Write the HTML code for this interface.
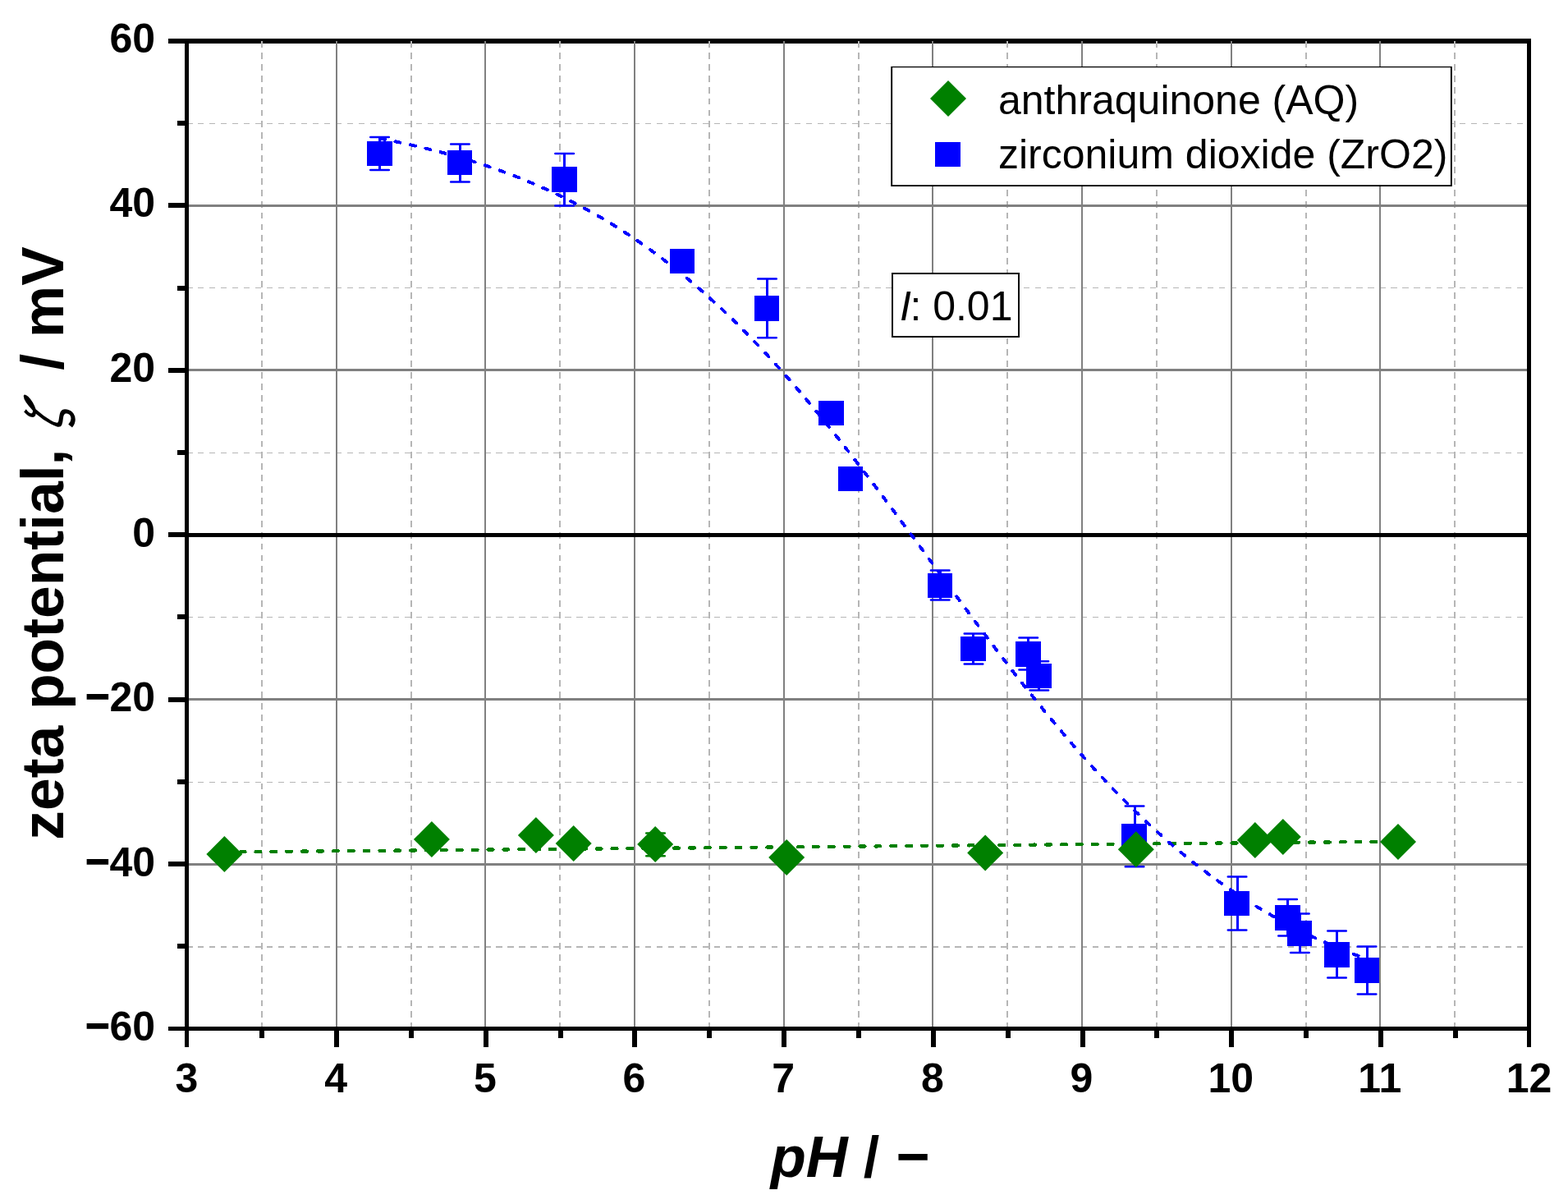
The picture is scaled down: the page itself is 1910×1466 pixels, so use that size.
<!DOCTYPE html>
<html lang="en"><head><meta charset="utf-8"><title>zeta potential vs pH</title>
<style>html,body{margin:0;padding:0;background:#fff;overflow:hidden}svg{display:block}text{font-family:"Liberation Sans","DejaVu Sans",sans-serif;fill:#000}.b{font-weight:bold}.i{font-style:italic}</style></head><body>
<svg width="1910" height="1466" viewBox="0 0 1910 1466" role="img" aria-label="zeta potential versus pH">
<rect width="1910" height="1466" fill="#fff"/>
<rect x="205" y="47" width="1660" height="6" fill="#000" shape-rendering="crispEdges"/>
<g stroke="#b6b6b6" fill="none" shape-rendering="crispEdges">
<line x1="319" y1="50.2" x2="319" y2="1250" stroke-width="2" stroke-dasharray="7.8 6.097"/>
<line x1="501" y1="50.2" x2="501" y2="1250" stroke-width="2" stroke-dasharray="7.8 6.097"/>
<line x1="682" y1="50.2" x2="682" y2="1250" stroke-width="2" stroke-dasharray="7.8 6.097"/>
<line x1="864" y1="50.2" x2="864" y2="1250" stroke-width="2" stroke-dasharray="7.8 6.097"/>
<line x1="1046" y1="50.2" x2="1046" y2="1250" stroke-width="2" stroke-dasharray="7.8 6.097"/>
<line x1="1227" y1="50.2" x2="1227" y2="1250" stroke-width="2" stroke-dasharray="7.8 6.097"/>
<line x1="1409" y1="50.2" x2="1409" y2="1250" stroke-width="2" stroke-dasharray="7.8 6.097"/>
<line x1="1591" y1="50.2" x2="1591" y2="1250" stroke-width="2" stroke-dasharray="7.8 6.097"/>
<line x1="1772" y1="50.2" x2="1772" y2="1250" stroke-width="2" stroke-dasharray="7.8 6.097"/>
<line x1="227.2" y1="150.5" x2="1856" y2="150.5" stroke-width="1" stroke-dasharray="7.3 6.672"/>
<line x1="227.2" y1="350.5" x2="1856" y2="350.5" stroke-width="1" stroke-dasharray="7.3 6.672"/>
<line x1="227.2" y1="551.5" x2="1856" y2="551.5" stroke-width="1" stroke-dasharray="7.3 6.672"/>
<line x1="227.2" y1="751.5" x2="1856" y2="751.5" stroke-width="1" stroke-dasharray="7.3 6.672"/>
<line x1="227.2" y1="952.5" x2="1856" y2="952.5" stroke-width="1" stroke-dasharray="7.3 6.672"/>
<line x1="227.2" y1="1153.0" x2="1856" y2="1153.0" stroke-width="2" stroke-dasharray="7.3 6.672"/>
</g>
<g fill="#808080" shape-rendering="crispEdges">
<rect x="409" y="50.0" width="2" height="1202.5"/>
<rect x="590" y="50.0" width="2" height="1202.5"/>
<rect x="772" y="50.0" width="2" height="1202.5"/>
<rect x="954" y="50.0" width="2" height="1202.5"/>
<rect x="1135" y="50.0" width="2" height="1202.5"/>
<rect x="1317" y="50.0" width="2" height="1202.5"/>
<rect x="1499" y="50.0" width="2" height="1202.5"/>
<rect x="1680" y="50.0" width="2" height="1202.5"/>
<rect x="227.5" y="249" width="1635.0" height="3"/>
<rect x="227.5" y="449" width="1635.0" height="3"/>
<rect x="227.5" y="850" width="1635.0" height="3"/>
<rect x="227.5" y="1051" width="1635.0" height="3"/>
</g>
<rect x="227.5" y="649" width="1635.0" height="5" fill="#000" shape-rendering="crispEdges"/>
<path d="M273.4,1037.51L1703.0,1024.67" fill="none" stroke="#008000" stroke-width="4.3" stroke-dasharray="5.9 12.976" stroke-dashoffset="-0.3" stroke-linecap="round" shape-rendering="crispEdges"/>
<path d="M462.5,168.6L470.1,170.0L477.6,171.5L485.2,173.1L492.8,174.7L500.3,176.4L507.9,178.1L515.4,179.9L523.0,181.8L530.6,183.7L538.1,185.6L545.7,187.7L553.3,189.8L560.8,192.0L568.4,194.2L575.9,196.5L583.5,199.0L591.1,201.4L598.6,204.0L606.2,206.6L613.8,209.4L621.3,212.2L628.9,215.1L636.4,218.1L644.0,221.2L651.6,224.4L659.1,227.7L666.7,231.1L674.3,234.6L681.8,238.2L689.4,241.9L696.9,245.7L704.5,249.6L712.1,253.7L719.6,257.8L727.2,262.1L734.8,266.5L742.3,271.0L749.9,275.7L757.5,280.5L765.0,285.4L772.6,290.4L780.1,295.6L787.7,300.9L795.3,306.4L802.8,312.0L810.4,317.7L818.0,323.5L825.5,329.6L833.1,335.7L840.6,342.0L848.2,348.5L855.8,355.0L863.3,361.8L870.9,368.7L878.5,375.7L886.0,382.9L893.6,390.2L901.1,397.7L908.7,405.3L916.3,413.0L923.8,420.9L931.4,428.9L939.0,437.1L946.5,445.4L954.1,453.8L961.7,462.4L969.2,471.1L976.8,479.9L984.3,488.9L991.9,497.9L999.5,507.1L1007.0,516.4L1014.6,525.8L1022.2,535.3L1029.7,544.9L1037.3,554.6L1044.8,564.3L1052.4,574.2L1060.0,584.1L1067.5,594.1L1075.1,604.1L1082.7,614.2L1090.2,624.4L1097.8,634.6L1105.3,644.8L1112.9,655.0L1120.5,665.3L1128.0,675.6L1135.6,685.9L1143.2,696.2L1150.7,706.5L1158.3,716.8L1165.8,727.1L1173.4,737.3L1181.0,747.5L1188.5,757.7L1196.1,767.8L1203.7,777.9L1211.2,787.9L1218.8,797.8L1226.4,807.7L1233.9,817.5L1241.5,827.2L1249.0,836.8L1256.6,846.3L1264.2,855.8L1271.7,865.1L1279.3,874.3L1286.9,883.4L1294.4,892.4L1302.0,901.2L1309.5,910.0L1317.1,918.6L1324.7,927.1L1332.2,935.4L1339.8,943.6L1347.4,951.7L1354.9,959.7L1362.5,967.5L1370.0,975.1L1377.6,982.6L1385.2,990.0L1392.7,997.2L1400.3,1004.3L1407.9,1011.2L1415.4,1018.0L1423.0,1024.7L1430.6,1031.1L1438.1,1037.5L1445.7,1043.7L1453.2,1049.8L1460.8,1055.7L1468.4,1061.4L1475.9,1067.1L1483.5,1072.6L1491.1,1077.9L1498.6,1083.2L1506.2,1088.2L1513.7,1093.2L1521.3,1098.0L1528.9,1102.7L1536.4,1107.3L1544.0,1111.7L1551.6,1116.1L1559.1,1120.3L1566.7,1124.4L1574.2,1128.3L1581.8,1132.2L1589.4,1135.9L1596.9,1139.6L1604.5,1143.1L1612.1,1146.5L1619.6,1149.8L1627.2,1153.1L1634.7,1156.2L1642.3,1159.2L1649.9,1162.2L1657.4,1165.0L1665.0,1167.8" fill="none" stroke="#0000ff" stroke-width="4.0" stroke-dasharray="6.0 12.876" stroke-dashoffset="-0.5" stroke-linecap="round" stroke-linejoin="round" shape-rendering="crispEdges"/>
<g fill="#0000ff" stroke="#0000ff">
<rect x="461" y="167.0" width="3" height="40.0" stroke="none" shape-rendering="crispEdges"/><path d="M451.20,167.0h22.6M451.20,207.0h22.6" fill="none" stroke-width="2.5" stroke-linecap="round"/>
<rect x="447" y="172" width="31" height="30" stroke="none" shape-rendering="crispEdges"/>
<rect x="559" y="175.5" width="3" height="45.9" stroke="none" shape-rendering="crispEdges"/><path d="M549.10,175.5h22.6M549.10,221.4h22.6" fill="none" stroke-width="2.5" stroke-linecap="round"/>
<rect x="545" y="183" width="30" height="30" stroke="none" shape-rendering="crispEdges"/>
<rect x="686" y="187.1" width="3" height="63.3" stroke="none" shape-rendering="crispEdges"/><path d="M676.35,187.1h22.6M676.35,250.4h22.6" fill="none" stroke-width="2.5" stroke-linecap="round"/>
<rect x="672" y="203" width="31" height="31" stroke="none" shape-rendering="crispEdges"/>
<rect x="816" y="303" width="30" height="30" stroke="none" shape-rendering="crispEdges"/>
<rect x="933" y="339.5" width="3" height="71.8" stroke="none" shape-rendering="crispEdges"/><path d="M923.20,339.5h22.6M923.20,411.3h22.6" fill="none" stroke-width="2.5" stroke-linecap="round"/>
<rect x="919" y="360" width="30" height="31" stroke="none" shape-rendering="crispEdges"/>
<rect x="997" y="488" width="31" height="30" stroke="none" shape-rendering="crispEdges"/>
<rect x="1021" y="568" width="30" height="30" stroke="none" shape-rendering="crispEdges"/>
<rect x="1144" y="694.6" width="3" height="36.0" stroke="none" shape-rendering="crispEdges"/><path d="M1133.90,694.6h22.6M1133.90,730.6h22.6" fill="none" stroke-width="2.5" stroke-linecap="round"/>
<rect x="1130" y="698" width="30" height="30" stroke="none" shape-rendering="crispEdges"/>
<rect x="1184" y="771.4" width="3" height="37.1" stroke="none" shape-rendering="crispEdges"/><path d="M1174.70,771.4h22.6M1174.70,808.5h22.6" fill="none" stroke-width="2.5" stroke-linecap="round"/>
<rect x="1170" y="775" width="31" height="30" stroke="none" shape-rendering="crispEdges"/>
<rect x="1251" y="776.5" width="3" height="38.9" stroke="none" shape-rendering="crispEdges"/><path d="M1241.40,776.5h22.6M1241.40,815.4h22.6" fill="none" stroke-width="2.5" stroke-linecap="round"/>
<rect x="1237" y="781" width="31" height="31" stroke="none" shape-rendering="crispEdges"/>
<rect x="1264" y="805.2" width="3" height="35.4" stroke="none" shape-rendering="crispEdges"/><path d="M1254.50,805.2h22.6M1254.50,840.6h22.6" fill="none" stroke-width="2.5" stroke-linecap="round"/>
<rect x="1250" y="808" width="31" height="30" stroke="none" shape-rendering="crispEdges"/>
<rect x="1381" y="981.5" width="3" height="73.7" stroke="none" shape-rendering="crispEdges"/><path d="M1370.75,981.5h22.6M1370.75,1055.2h22.6" fill="none" stroke-width="2.5" stroke-linecap="round"/>
<rect x="1366" y="1003" width="31" height="30" stroke="none" shape-rendering="crispEdges"/>
<rect x="1506" y="1067.5" width="3" height="65.0" stroke="none" shape-rendering="crispEdges"/><path d="M1495.75,1067.5h22.6M1495.75,1132.5h22.6" fill="none" stroke-width="2.5" stroke-linecap="round"/>
<rect x="1491" y="1085" width="31" height="30" stroke="none" shape-rendering="crispEdges"/>
<rect x="1567" y="1094.9" width="3" height="44.6" stroke="none" shape-rendering="crispEdges"/><path d="M1557.25,1094.9h22.6M1557.25,1139.5h22.6" fill="none" stroke-width="2.5" stroke-linecap="round"/>
<rect x="1553" y="1102" width="31" height="31" stroke="none" shape-rendering="crispEdges"/>
<rect x="1582" y="1112.4" width="3" height="47.6" stroke="none" shape-rendering="crispEdges"/><path d="M1572.05,1112.4h22.6M1572.05,1160.0h22.6" fill="none" stroke-width="2.5" stroke-linecap="round"/>
<rect x="1568" y="1121" width="30" height="31" stroke="none" shape-rendering="crispEdges"/>
<rect x="1627" y="1133.5" width="3" height="56.9" stroke="none" shape-rendering="crispEdges"/><path d="M1617.25,1133.5h22.6M1617.25,1190.4h22.6" fill="none" stroke-width="2.5" stroke-linecap="round"/>
<rect x="1613" y="1147" width="31" height="31" stroke="none" shape-rendering="crispEdges"/>
<rect x="1664" y="1152.6" width="3" height="57.8" stroke="none" shape-rendering="crispEdges"/><path d="M1653.75,1152.6h22.6M1653.75,1210.4h22.6" fill="none" stroke-width="2.5" stroke-linecap="round"/>
<rect x="1650" y="1166" width="30" height="31" stroke="none" shape-rendering="crispEdges"/>
</g>
<g fill="#008000">
<path d="M798.5,1014.5V1042.3M787.2,1014.5h22.6M787.2,1042.3h22.6" fill="none" stroke="#008000" stroke-width="2.5" stroke-linecap="round"/>
<path d="M273.4,1018.1l22,22l-22,22l-22,-22z"/>
<path d="M525.9,1000.0l22,22l-22,22l-22,-22z"/>
<path d="M652.9,995.0l22,22l-22,22l-22,-22z"/>
<path d="M698.7,1005.0l22,22l-22,22l-22,-22z"/>
<path d="M798.2,1006.1l22,22l-22,22l-22,-22z"/>
<path d="M958.2,1022.0l22,22l-22,22l-22,-22z"/>
<path d="M1200.2,1016.5l22,22l-22,22l-22,-22z"/>
<path d="M1383.8,1012.3l22,22l-22,22l-22,-22z"/>
<path d="M1528.8,1001.1l22,22l-22,22l-22,-22z"/>
<path d="M1562.8,997.0l22,22l-22,22l-22,-22z"/>
<path d="M1703.0,1002.9l22,22l-22,22l-22,-22z"/>
</g>
<g fill="#000" shape-rendering="crispEdges">
<rect x="225" y="1250" width="1640" height="5"/>
<rect x="225" y="47" width="5" height="1228"/>
<rect x="1860" y="47" width="5" height="1228"/>
<rect x="407" y="1250" width="6" height="25"/>
<rect x="589" y="1250" width="6" height="25"/>
<rect x="770" y="1250" width="6" height="25"/>
<rect x="952" y="1250" width="6" height="25"/>
<rect x="1134" y="1250" width="6" height="25"/>
<rect x="1316" y="1250" width="6" height="25"/>
<rect x="1497" y="1250" width="6" height="25"/>
<rect x="1679" y="1250" width="6" height="25"/>
<rect x="316" y="1250" width="6" height="14"/>
<rect x="498" y="1250" width="6" height="14"/>
<rect x="680" y="1250" width="6" height="14"/>
<rect x="861" y="1250" width="6" height="14"/>
<rect x="1043" y="1250" width="6" height="14"/>
<rect x="1225" y="1250" width="6" height="14"/>
<rect x="1406" y="1250" width="6" height="14"/>
<rect x="1588" y="1250" width="6" height="14"/>
<rect x="1770" y="1250" width="6" height="14"/>
<rect x="205" y="47" width="22" height="6"/>
<rect x="205" y="247" width="22" height="6"/>
<rect x="205" y="448" width="22" height="6"/>
<rect x="205" y="648" width="22" height="6"/>
<rect x="205" y="849" width="22" height="6"/>
<rect x="205" y="1049" width="22" height="6"/>
<rect x="205" y="1250" width="22" height="5"/>
<rect x="216" y="147" width="11" height="6"/>
<rect x="216" y="348" width="11" height="6"/>
<rect x="216" y="548" width="11" height="6"/>
<rect x="216" y="748" width="11" height="6"/>
<rect x="216" y="949" width="11" height="6"/>
<rect x="216" y="1149" width="11" height="6"/>
</g>
<g class="b" font-size="50">
<text x="227.5" y="1329.6" text-anchor="middle">3</text>
<text x="409.2" y="1329.6" text-anchor="middle">4</text>
<text x="590.8" y="1329.6" text-anchor="middle">5</text>
<text x="772.5" y="1329.6" text-anchor="middle">6</text>
<text x="954.2" y="1329.6" text-anchor="middle">7</text>
<text x="1135.8" y="1329.6" text-anchor="middle">8</text>
<text x="1317.5" y="1329.6" text-anchor="middle">9</text>
<text x="1499.2" y="1329.6" text-anchor="middle">10</text>
<text x="1680.8" y="1329.6" text-anchor="middle">11</text>
<text x="1862.5" y="1329.6" text-anchor="middle">12</text>
<text x="189" y="63.7" text-anchor="end">60</text>
<text x="189" y="264.4" text-anchor="end">40</text>
<text x="189" y="464.8" text-anchor="end">20</text>
<text x="189" y="665.8" text-anchor="end">0</text>
<text x="189" y="866.2" text-anchor="end"><tspan stroke="#000" stroke-width="1.4" dy="-0.9">−</tspan><tspan dy="0.9">20</tspan></text>
<text x="189" y="1066.6" text-anchor="end"><tspan stroke="#000" stroke-width="1.4" dy="-0.9">−</tspan><tspan dy="0.9">40</tspan></text>
<text x="189" y="1267.2" text-anchor="end"><tspan stroke="#000" stroke-width="1.4" dy="-0.9">−</tspan><tspan dy="0.9">60</tspan></text>
</g>
<text class="b" font-size="70.5" y="1433"><tspan class="i" x="938.8">pH</tspan> <tspan x="1051.7">/</tspan> <tspan x="1091.4" dy="-1.4">−</tspan></text>
<text class="b" font-size="71.4" transform="translate(77.1,1022.7) rotate(-90)">zeta potential,</text>
<text style="font-family:IPAGothic,&quot;Liberation Serif&quot;,serif;font-style:italic" font-size="73" transform="translate(85,540) rotate(-90) scale(0.84,1)">ζ</text>
<text class="b" font-size="71.4" transform="translate(77.1,450.8) rotate(-90)">/ mV</text>
<rect x="1085.2" y="80.9" width="683.6" height="146.1" fill="#000"/>
<rect x="1087.1" y="82.2" width="679.8" height="143" fill="#fff"/>
<path d="M1155,98l22,22l-22,22l-22,-22z" fill="#008000"/>
<rect x="1139" y="173" width="31" height="30" fill="#0000ff" shape-rendering="crispEdges"/>
<text font-size="50" x="1216" y="138.6">anthraquinone (AQ)</text>
<text font-size="50" x="1216" y="205.4">zirconium dioxide (ZrO2)</text>
<rect x="1087" y="333" width="154" height="77" fill="#fff" stroke="#000" stroke-width="2" shape-rendering="crispEdges"/>
<text font-size="50" y="389.8"><tspan class="i" x="1096">I</tspan><tspan x="1108.4">: 0.01</tspan></text>
</svg></body></html>
